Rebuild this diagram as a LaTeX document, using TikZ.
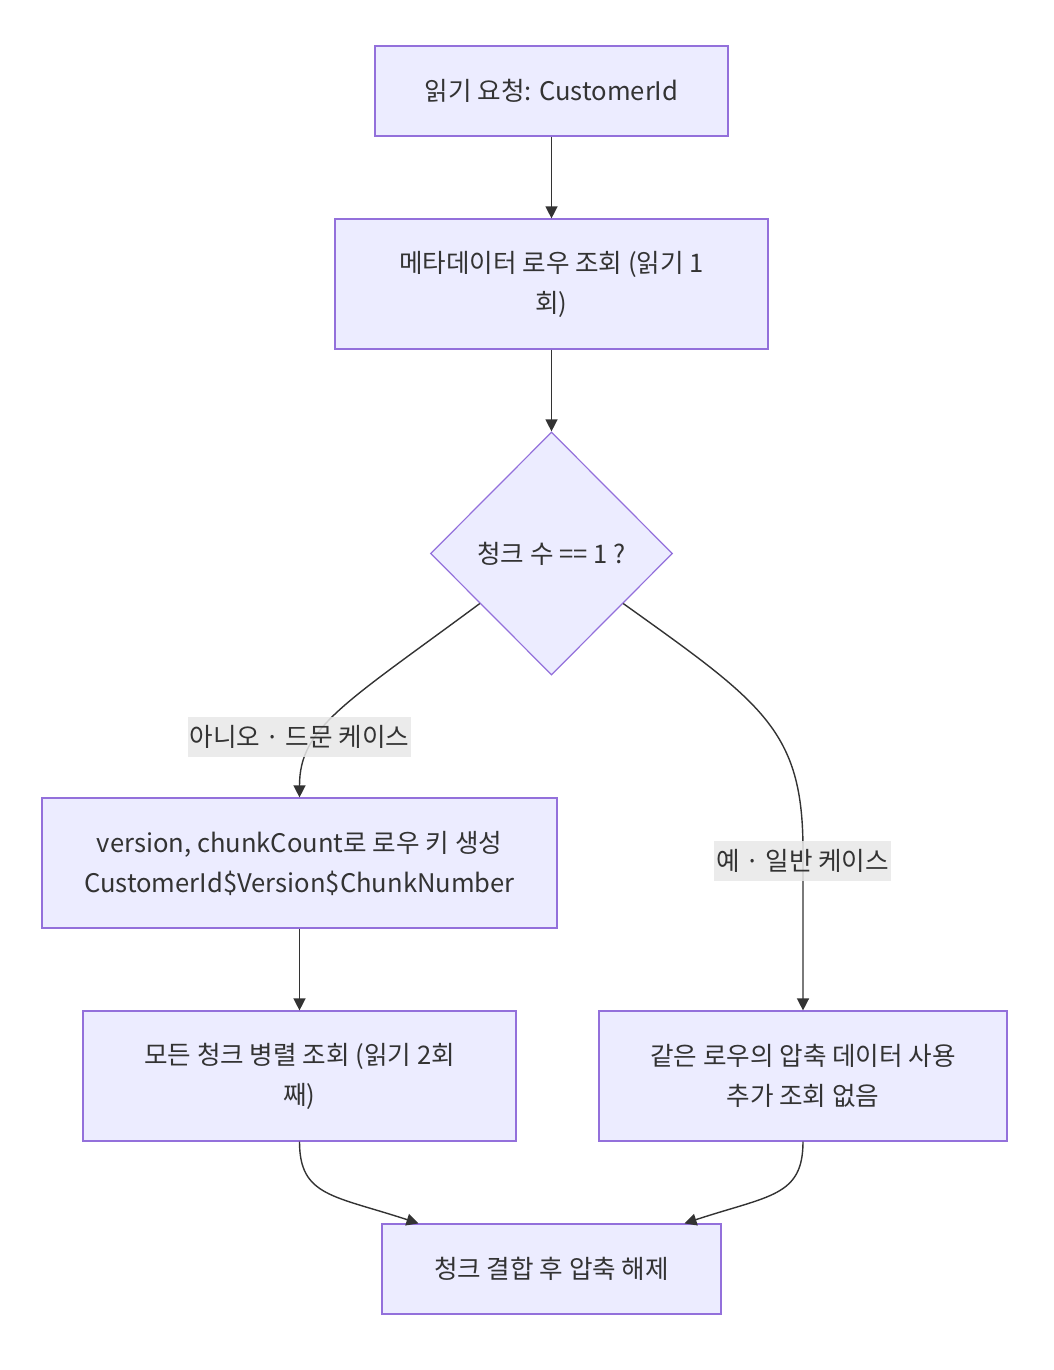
\documentclass[tikz,border=0pt]{standalone}
\usepackage{fontspec}
\setmainfont{Noto Sans CJK KR}
\usepackage{tikz}
\usetikzlibrary{shapes.geometric, arrows.meta, calc}

\definecolor{nodefill}{HTML}{ECECFF}
\definecolor{nodeline}{HTML}{9370DB}
\definecolor{edgeline}{HTML}{333333}
\definecolor{lblfill}{HTML}{E8E8E8}

\begin{document}
\begin{tikzpicture}[
  x=0.5pt, y=-0.5pt,
  every node/.style={text=edgeline, font=\fontsize{12.8}{20}\selectfont},
  box/.style={rectangle, draw=nodeline, fill=nodefill, line width=0.6pt, align=center, inner sep=0pt},
  decision/.style={diamond, draw=nodeline, fill=nodefill, line width=0.6pt, align=center, inner sep=0pt,
    minimum width=121pt, minimum height=121.5pt},
  lbl/.style={fill=lblfill, fill opacity=0.85, text opacity=1, inner xsep=1pt, inner ysep=0pt, minimum height=20pt},
  arrow/.style={-{Triangle[length=6pt, width=6pt]}, draw=edgeline, line width=0.7pt}
]
  \useasboundingbox (0,0) rectangle (1054,1370);

  \node[box, minimum width=176.5pt, minimum height=45pt] (req) at (551.5,91) {읽기 요청: CustomerId};
  \node[box, minimum width=216.5pt, minimum height=65pt] (meta) at (551.5,284) {메타데이터 로우 조회 (읽기 1\\회)};
  \node[decision] (cnt) at (551.5,553.5) {청크 수 == 1 ?};
  \node[box, minimum width=257.5pt, minimum height=65pt] (key) at (299.5,863) {version, chunkCount로 로우 키 생성\\CustomerId\$Version\$ChunkNumber};
  \node[box, minimum width=216.5pt, minimum height=65pt] (par) at (299.5,1076) {모든 청크 병렬 조회 (읽기 2회\\째)};
  \node[box, minimum width=204pt, minimum height=65pt] (same) at (803,1076) {같은 로우의 압축 데이터 사용\\추가 조회 없음};
  \node[box, minimum width=169.5pt, minimum height=45pt] (join) at (551.5,1269) {청크 결합 후 압축 해제};

  \draw[arrow] (req) -- (meta);
  \draw[arrow] (meta) -- (cnt);

  \draw[arrow] ($(cnt.west)!0.41!(cnt.south)$) .. controls +(-135,100) and +(0,-70) .. (key.north);
  \draw[arrow] ($(cnt.east)!0.41!(cnt.south)$) .. controls +(140,100) and +(0,-120) .. ($(same.north)+(0,-160)$) -- (same.north);

  \draw[arrow] (key) -- (par);

  \draw[arrow] (par.south) .. controls +(0,55) and +(-85,-28) .. ($(join.north)+(-133,0)$);
  \draw[arrow] (same.south) .. controls +(0,55) and +(85,-28) .. ($(join.north)+(133,0)$);

  \node[lbl] (no) at (299.5,736.5) {아니오 · 드문 케이스};
  \node[lbl] (yes) at (802.5,861) {예 · 일반 케이스};
\end{tikzpicture}
\end{document}
